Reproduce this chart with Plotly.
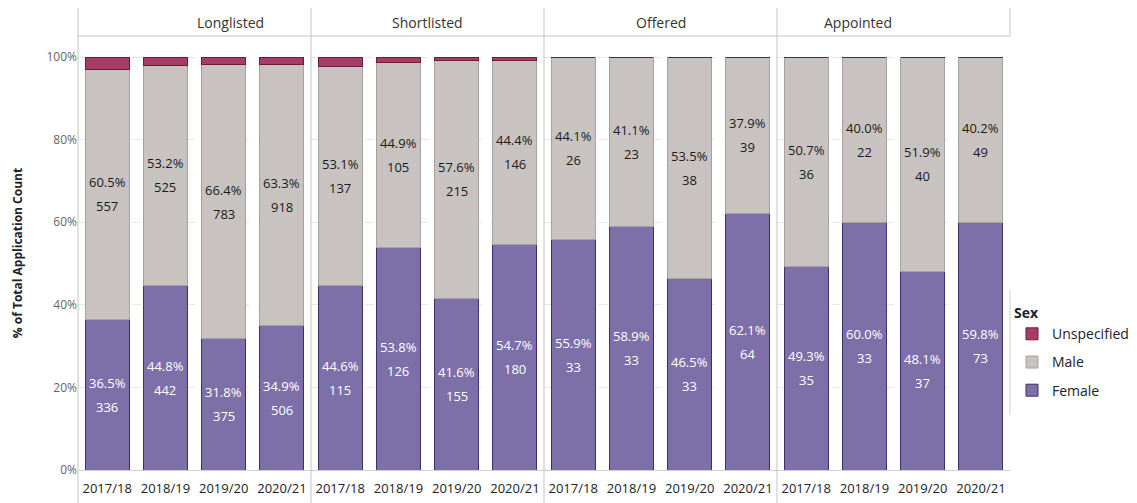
import plotly.graph_objects as go
from plotly.subplots import make_subplots

stages = ["Longlisted", "Shortlisted", "Offered", "Appointed"]
years = ["2017/18", "2018/19", "2019/20", "2020/21"]

# counts per stage (rows) and year (columns)
female_counts = [
    [336, 442, 375, 506],
    [115, 126, 155, 180],
    [33, 33, 33, 64],
    [35, 33, 37, 73],
]
male_counts = [
    [557, 525, 783, 918],
    [137, 105, 215, 146],
    [26, 23, 38, 39],
    [36, 22, 40, 49],
]
unspecified_counts = [
    [27, 20, 21, 26],
    [6, 3, 3, 3],
    [0, 0, 0, 0],
    [0, 0, 0, 0],
]

y_ticks = [0, 20, 40, 60, 80, 100]
y_tick_text = ["0%", "20%", "40%", "60%", "80%", "100%"]

FONT = "Open Sans"
COL_F, LINE_F = "#7d70a9", "#3e2f6c"
COL_M, LINE_M = "#c8c3c0", "#a6a19e"
COL_U, LINE_U = "#a53d66", "#6d1a3b"

# page body has an 8px default margin; compensate so the plot lands where intended
W, H = 1129, 495
ML, MR, MT, MB = 70, 127, 28, 33
PH = H - MT - MB  # plot height in px
PW = W - ML - MR


def py(px_from_plot_bottom):
    return px_from_plot_bottom / PH


fig = make_subplots(rows=1, cols=4, shared_yaxes=True, horizontal_spacing=0)

annotations = []
for i, stage in enumerate(stages):
    f = female_counts[i]
    m = male_counts[i]
    u = unspecified_counts[i]
    tot = [a + b + c for a, b, c in zip(f, m, u)]
    fp = [100 * a / t for a, t in zip(f, tot)]
    mp = [100 * b / t for b, t in zip(m, tot)]
    up = [100 * c / t for c, t in zip(u, tot)]
    show = i == 0
    fig.add_trace(go.Bar(x=years, y=fp, name="Female", legendgroup="Female", legendrank=3,
                         showlegend=show, marker=dict(color=COL_F, line=dict(color=LINE_F, width=1))),
                  row=1, col=i + 1)
    fig.add_trace(go.Bar(x=years, y=mp, name="Male", legendgroup="Male", legendrank=2,
                         showlegend=show, marker=dict(color=COL_M, line=dict(color=LINE_M, width=1))),
                  row=1, col=i + 1)
    fig.add_trace(go.Bar(x=years, y=up, name="Unspecified", legendgroup="Unspecified", legendrank=1,
                         showlegend=show, marker=dict(color=COL_U, line=dict(color=LINE_U, width=1))),
                  row=1, col=i + 1)
    xr = "x" if i == 0 else f"x{i+1}"
    yr = "y" if i == 0 else f"y{i+1}"
    for j, yr_lbl in enumerate(years):
        fc = fp[j] / 2
        mc = fp[j] + mp[j] / 2
        for yc, pct, cnt, col in [(fc, fp[j], f[j], "white"), (mc, mp[j], m[j], "#1a1a1a")]:
            annotations.append(dict(x=yr_lbl, y=yc, xref=xr, yref=yr, text=f"{pct:.1f}%",
                                    showarrow=False, yshift=12,
                                    font=dict(family=FONT, size=13, color=col)))
            annotations.append(dict(x=yr_lbl, y=yc, xref=xr, yref=yr, text=f"{cnt}",
                                    showarrow=False, yshift=-12,
                                    font=dict(family=FONT, size=13, color=col)))
    # panel header
    annotations.append(dict(x=(i + 0.5) / 4, y=1 + py(14), xref="paper", yref="paper", text=stage,
                            showarrow=False, yanchor="middle",
                            font=dict(family=FONT, size=14, color="#333333")))

annotations.append(dict(x=1.0215, y=1 + py(32), xref="paper", yref="paper", text="All",
                        showarrow=False, xanchor="left", yanchor="bottom",
                        font=dict(family=FONT, size=13, color="#333333")))

LINE = "#c4c4c4"
shapes = []
for k in range(4):
    shapes.append(dict(type="line", xref="paper", yref="paper", x0=k / 4, x1=k / 4,
                       y0=-py(33), y1=1 + py(28), line=dict(color=LINE, width=1)))
shapes.append(dict(type="line", xref="paper", yref="paper", x0=1, x1=1,
                   y0=1.0, y1=1 + py(28), line=dict(color=LINE, width=1)))
shapes.append(dict(type="line", xref="paper", yref="paper", x0=0, x1=1,
                   y0=1.0, y1=1.0, line=dict(color=LINE, width=1)))
shapes.append(dict(type="line", xref="paper", yref="paper", x0=1, x1=1,
                   y0=py(180), y1=py(55), line=dict(color="#d0d0d0", width=1)))

fig.update_layout(
    width=W, height=H, autosize=False,
    margin=dict(l=ML, r=MR, t=MT, b=MB, autoexpand=False),
    barmode="stack", bargap=0.245,
    plot_bgcolor="white", paper_bgcolor="white",
    font=dict(family=FONT, color="#333333"),
    annotations=annotations, shapes=shapes,
    legend=dict(x=1 + 2 / PW, y=py(170), xanchor="left", yanchor="top",
                traceorder="grouped", tracegroupgap=7,
                title=dict(text="<b>Sex</b>", font=dict(family=FONT, size=14, color="#222")),
                font=dict(family=FONT, size=14, color="#222")),
)
for i in range(4):
    fig.update_xaxes(showline=True, linecolor="#d0d0d0", ticks="", showgrid=False,
                     ticklabelstandoff=6,
                     tickfont=dict(family=FONT, size=13, color="#222"), row=1, col=i + 1)
    fig.update_yaxes(range=[0, 105.1], tickvals=y_ticks, ticktext=y_tick_text,
                     showgrid=True, gridcolor="#e6e6e6", griddash="dash", zeroline=False,
                     tickfont=dict(family=FONT, size=12, color="#666666"), row=1, col=i + 1)
fig.update_yaxes(title=dict(text="<b>% of Total Application Count</b>", standoff=21,
                            font=dict(family=FONT, size=12, color="#222")), row=1, col=1)

fig.write_html("out.html")
